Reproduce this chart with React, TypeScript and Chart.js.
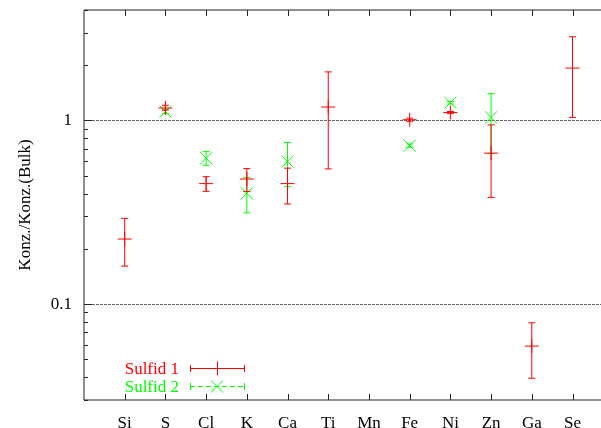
import React, { useEffect, useRef } from 'react';
import { Chart, registerables } from 'chart.js';

Chart.register(...registerables);

// ---- data ----
const elements = ['Si', 'S', 'Cl', 'K', 'Ca', 'Ti', 'Mn', 'Fe', 'Ni', 'Zn', 'Ga', 'Se'];

const sulfid1Value = [0.226, 1.17, 0.453, 0.48, 0.453, 1.184, null, 1.01, 1.105, 0.664, 0.059, 1.93];
const sulfid1Low = [0.161, 1.14, 0.411, 0.41, 0.351, 0.545, null, 0.99, 1.09, 0.381, 0.0394, 1.04];
const sulfid1High = [0.293, 1.21, 0.494, 0.547, 0.55, 1.84, null, 1.03, 1.12, 0.947, 0.079, 2.86];

const sulfid2Value = [null, 1.12, 0.623, 0.401, 0.597, null, null, 0.73, 1.25, 1.04, null, null];
const sulfid2Low = [null, 1.09, 0.57, 0.314, 0.436, null, null, 0.715, 1.23, 0.66, null, null];
const sulfid2High = [null, 1.15, 0.677, 0.49, 0.759, null, null, 0.745, 1.27, 1.40, null, null];

const yTickValues = [0.1, 1];
const yMinorTicks = [0.03, 0.04, 0.05, 0.06, 0.07, 0.08, 0.09, 0.2, 0.3, 0.4, 0.5, 0.6, 0.7, 0.8, 0.9, 2, 3, 4];

const seriesNames = ['Sulfid 1', 'Sulfid 2'];
const seriesColors = ['#ff0000', '#00ff00'];

const FONT_FAMILY = "'Liberation Serif', 'Times New Roman', serif";
const FONT_SIZE = 17;

const toPoints = (vals: (number | null)[]) =>
  vals
    .map((v, i) => (v == null ? null : { x: i + 1, y: v }))
    .filter((p) => p !== null) as { x: number; y: number }[];

const errorBarPlugin = {
  id: 'errorBars',
  beforeDatasetDraw(chart: any, args: any) {
    const ds = chart.data.datasets[args.index];
    const lows: (number | null)[] = ds.errLow;
    const highs: (number | null)[] = ds.errHigh;
    if (!lows) return;
    const { ctx, scales } = chart;
    const xs = scales.x;
    const ys = scales.y;
    ctx.save();
    ctx.strokeStyle = ds.borderColor;
    ctx.lineWidth = 1;
    lows.forEach((lo, i) => {
      const hi = highs[i];
      if (lo == null || hi == null) return;
      const px = xs.getPixelForValue(i + 1);
      const pl = ys.getPixelForValue(lo);
      const ph = ys.getPixelForValue(hi);
      const cap = 3.5;
      ctx.beginPath();
      ctx.moveTo(px, pl);
      ctx.lineTo(px, ph);
      ctx.moveTo(px - cap, pl);
      ctx.lineTo(px + cap, pl);
      ctx.moveTo(px - cap, ph);
      ctx.lineTo(px + cap, ph);
      ctx.stroke();
    });
    ctx.restore();
  },
};

const framePlugin = {
  id: 'frame',
  afterDraw(chart: any) {
    const { ctx, chartArea, scales } = chart;
    const { left, top, right, bottom } = chartArea;
    ctx.save();
    ctx.strokeStyle = '#222';
    ctx.lineWidth = 1;
    ctx.beginPath();
    ctx.moveTo(left, top);
    ctx.lineTo(right + 20, top);
    ctx.moveTo(left, top);
    ctx.lineTo(left, bottom);
    ctx.lineTo(right + 20, bottom);
    ctx.stroke();

    // x ticks (top and bottom, inward)
    ctx.beginPath();
    elements.forEach((_, i) => {
      const px = Math.round(scales.x.getPixelForValue(i + 1)) + 0.5;
      ctx.moveTo(px, bottom);
      ctx.lineTo(px, bottom - 6);
      ctx.moveTo(px, top);
      ctx.lineTo(px, top + 6);
    });
    // y minor ticks
    yMinorTicks.forEach((v) => {
      const py = Math.round(scales.y.getPixelForValue(v)) + 0.5;
      ctx.moveTo(left, py);
      ctx.lineTo(left + 4, py);
    });
    yTickValues.forEach((v) => {
      const py = Math.round(scales.y.getPixelForValue(v)) + 0.5;
      ctx.moveTo(left, py);
      ctx.lineTo(left + 8, py);
    });
    ctx.stroke();

    // legend
    ctx.font = `${FONT_SIZE}px ${FONT_FAMILY}`;
    ctx.textAlign = 'right';
    ctx.textBaseline = 'middle';
    const legendY = [368.5, 386.5];
    const x0 = 190;
    const x1 = 244;
    const xm = 217;
    seriesNames.forEach((name, k) => {
      const y = legendY[k];
      ctx.fillStyle = seriesColors[k];
      ctx.fillText(name, 179, y + 1);
      ctx.strokeStyle = seriesColors[k];
      ctx.lineWidth = 1;
      ctx.setLineDash(k === 1 ? [5, 3] : []);
      ctx.beginPath();
      ctx.moveTo(x0, y);
      ctx.lineTo(x1, y);
      ctx.stroke();
      ctx.setLineDash([]);
      ctx.beginPath();
      ctx.moveTo(x0 + 0.5, y - 3.5);
      ctx.lineTo(x0 + 0.5, y + 3.5);
      ctx.moveTo(x1 + 0.5, y - 3.5);
      ctx.lineTo(x1 + 0.5, y + 3.5);
      if (k === 0) {
        ctx.moveTo(xm + 0.5, y - 7);
        ctx.lineTo(xm + 0.5, y + 7);
      } else {
        const r = 6;
        ctx.moveTo(xm - r, y - r);
        ctx.lineTo(xm + r, y + r);
        ctx.moveTo(xm - r, y + r);
        ctx.lineTo(xm + r, y - r);
      }
      ctx.stroke();
    });
    ctx.restore();
  },
};

export default function App() {
  const ref = useRef<HTMLCanvasElement | null>(null);

  useEffect(() => {
    document.body.style.margin = '0';
    if (!ref.current) return;
    const font = { family: FONT_FAMILY, size: FONT_SIZE };
    const chart = new Chart(ref.current, {
      type: 'scatter',
      data: {
        datasets: [
          {
            label: seriesNames[0],
            data: toPoints(sulfid1Value),
            pointStyle: 'cross',
            pointRadius: 7,
            pointBorderWidth: 1,
            borderColor: seriesColors[0],
            backgroundColor: seriesColors[0],
            showLine: false,
            errLow: sulfid1Low,
            errHigh: sulfid1High,
          } as any,
          {
            label: seriesNames[1],
            data: toPoints(sulfid2Value),
            pointStyle: 'crossRot',
            pointRadius: 8.5,
            pointBorderWidth: 1,
            borderColor: seriesColors[1],
            backgroundColor: seriesColors[1],
            showLine: false,
            errLow: sulfid2Low,
            errHigh: sulfid2High,
          } as any,
        ],
      },
      options: {
        animation: false,
        responsive: false,
        maintainAspectRatio: false,
        events: [],
        layout: { autoPadding: false, padding: { top: 10, right: 0, left: 0, bottom: 0 } },
        plugins: { legend: { display: false }, tooltip: { enabled: false } },
        scales: {
          x: {
            type: 'linear',
            min: 0,
            max: 12.7,
            afterBuildTicks: (s: any) => {
              s.ticks = elements.map((_, i) => ({ value: i + 1 }));
            },
            afterFit: (s: any) => {
              s.height = 28;
              s.paddingLeft = 0;
              s.paddingRight = 0;
            },
            ticks: {
              callback: (v: any) => elements[Math.round(Number(v)) - 1] ?? '',
              font,
              color: '#000',
              padding: 5,
              autoSkip: false,
              maxRotation: 0,
            },
            grid: { display: false },
            border: { display: false },
          },
          y: {
            type: 'logarithmic',
            min: 0.03,
            max: 4,
            afterBuildTicks: (s: any) => {
              s.ticks = yTickValues.map((v) => ({ value: v }));
            },
            afterFit: (s: any) => {
              s.width = 84;
              s.paddingTop = 0;
              s.paddingBottom = 0;
            },
            ticks: {
              callback: (v: any) => (Number(v) === 1 ? '1' : '0.1'),
              font,
              color: '#000',
              padding: 12,
            },
            grid: { color: '#666', lineWidth: 1, drawTicks: false },
            border: { display: false, dash: [3, 1] },
            title: {
              display: true,
              text: 'Konz./Konz.(Bulk)',
              font,
              color: '#000',
              padding: { top: 15, bottom: 0 },
            },
          },
        },
      },
      plugins: [errorBarPlugin, framePlugin],
    } as any);
    return () => chart.destroy();
  }, []);

  return (
    <div style={{ position: 'fixed', left: 0, top: 0, width: 601, height: 428, overflow: 'hidden', background: '#fff' }}>
      <canvas ref={ref} width={601} height={428} style={{ width: 601, height: 428, display: 'block' }} />
    </div>
  );
}
